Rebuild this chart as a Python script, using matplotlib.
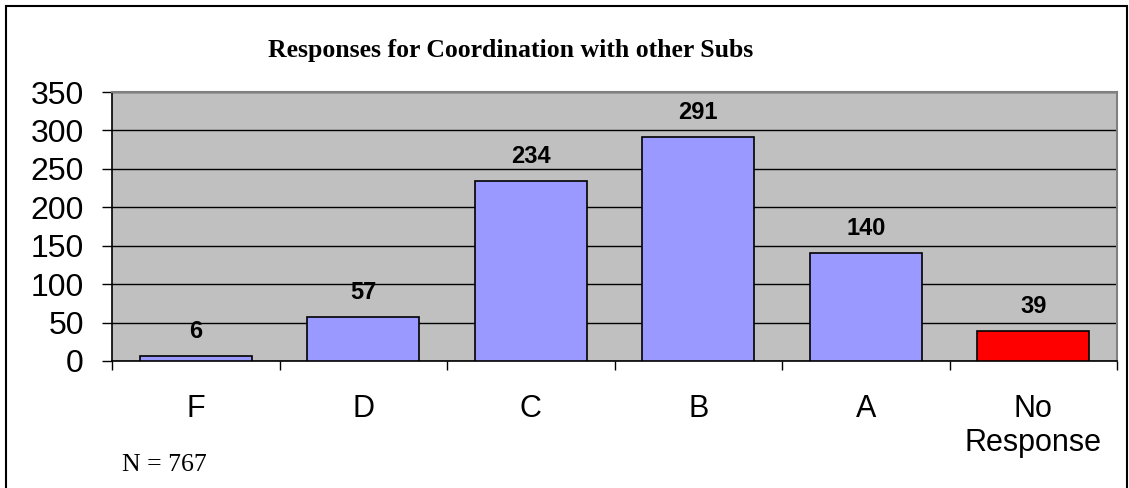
import matplotlib
matplotlib.use("Agg")
import matplotlib.pyplot as plt
from matplotlib.patches import Rectangle

categories = ["F", "D", "C", "B", "A", "No\nResponse"]
values = [6, 57, 234, 291, 140, 39]
colors = ["#9999FF", "#9999FF", "#9999FF", "#9999FF", "#9999FF", "#FF0000"]
yticks = [0, 50, 100, 150, 200, 250, 300, 350]
title = "Responses for Coordination with other Subs"
note = "N = 767"

W, H = 1129, 488
fig = plt.figure(figsize=(W / 100, H / 100), dpi=100)
fig.patch.set_facecolor("white")

# outer frame
fig.patches.append(Rectangle((6 / W, -0.01), (1128 - 6) / W - 0.0005, 1 - 6 / H + 0.01,
                             transform=fig.transFigure, fill=False,
                             edgecolor="black", linewidth=1.5))

ax = fig.add_axes([112 / W, 1 - 361 / H, (1117 - 112) / W, (361 - 92) / H])
ax.set_facecolor("#C0C0C0")

x = list(range(len(categories)))
ax.bar(x, values, width=0.67, color=colors, edgecolor="black", linewidth=1.2, zorder=3)

ax.set_xlim(-0.5, len(categories) - 0.5)
ax.set_ylim(0, 350)
ax.set_yticks(yticks)
ax.set_yticklabels([str(v) for v in yticks], fontsize=23, family="Liberation Sans")
ax.yaxis.grid(True, color="black", linewidth=1.0, zorder=1)
ax.set_axisbelow(True)

ax.set_xticks([i - 0.5 for i in range(len(categories) + 1)], minor=False)
ax.set_xticklabels([])
ax.set_xticks(x, minor=True)
ax.set_xticklabels(categories, minor=True, fontsize=22, family="Liberation Sans",
                   linespacing=1.15)
ax.tick_params(axis="x", which="major", direction="out", length=6.5, width=1, color="black")
ax.tick_params(axis="x", which="minor", length=0, pad=24)
ax.tick_params(axis="y", direction="out", length=7.2, width=1, pad=13)
for lbl in ax.get_xticklabels(minor=True):
    lbl.set_verticalalignment("top")

for s in ["left", "bottom"]:
    ax.spines[s].set_color("black")
    ax.spines[s].set_linewidth(1.2)
for s in ["top", "right"]:
    ax.spines[s].set_color("#808080")
    ax.spines[s].set_linewidth(1.5)

for xi, v in zip(x, values):
    ax.annotate(str(v), (xi, v), xytext=(0, 13), textcoords="offset points",
                ha="center", va="baseline", fontsize=17, fontweight="bold",
                family="Liberation Sans")

fig.text(511 / W, 1 - 57 / H, title, ha="center", va="baseline", fontsize=18.5,
         fontweight="bold", family="Liberation Serif")
fig.text(122 / W, 1 - 471 / H, note, ha="left", va="baseline", fontsize=18.5,
         family="Liberation Serif")

fig.savefig("out.png", dpi=100)
